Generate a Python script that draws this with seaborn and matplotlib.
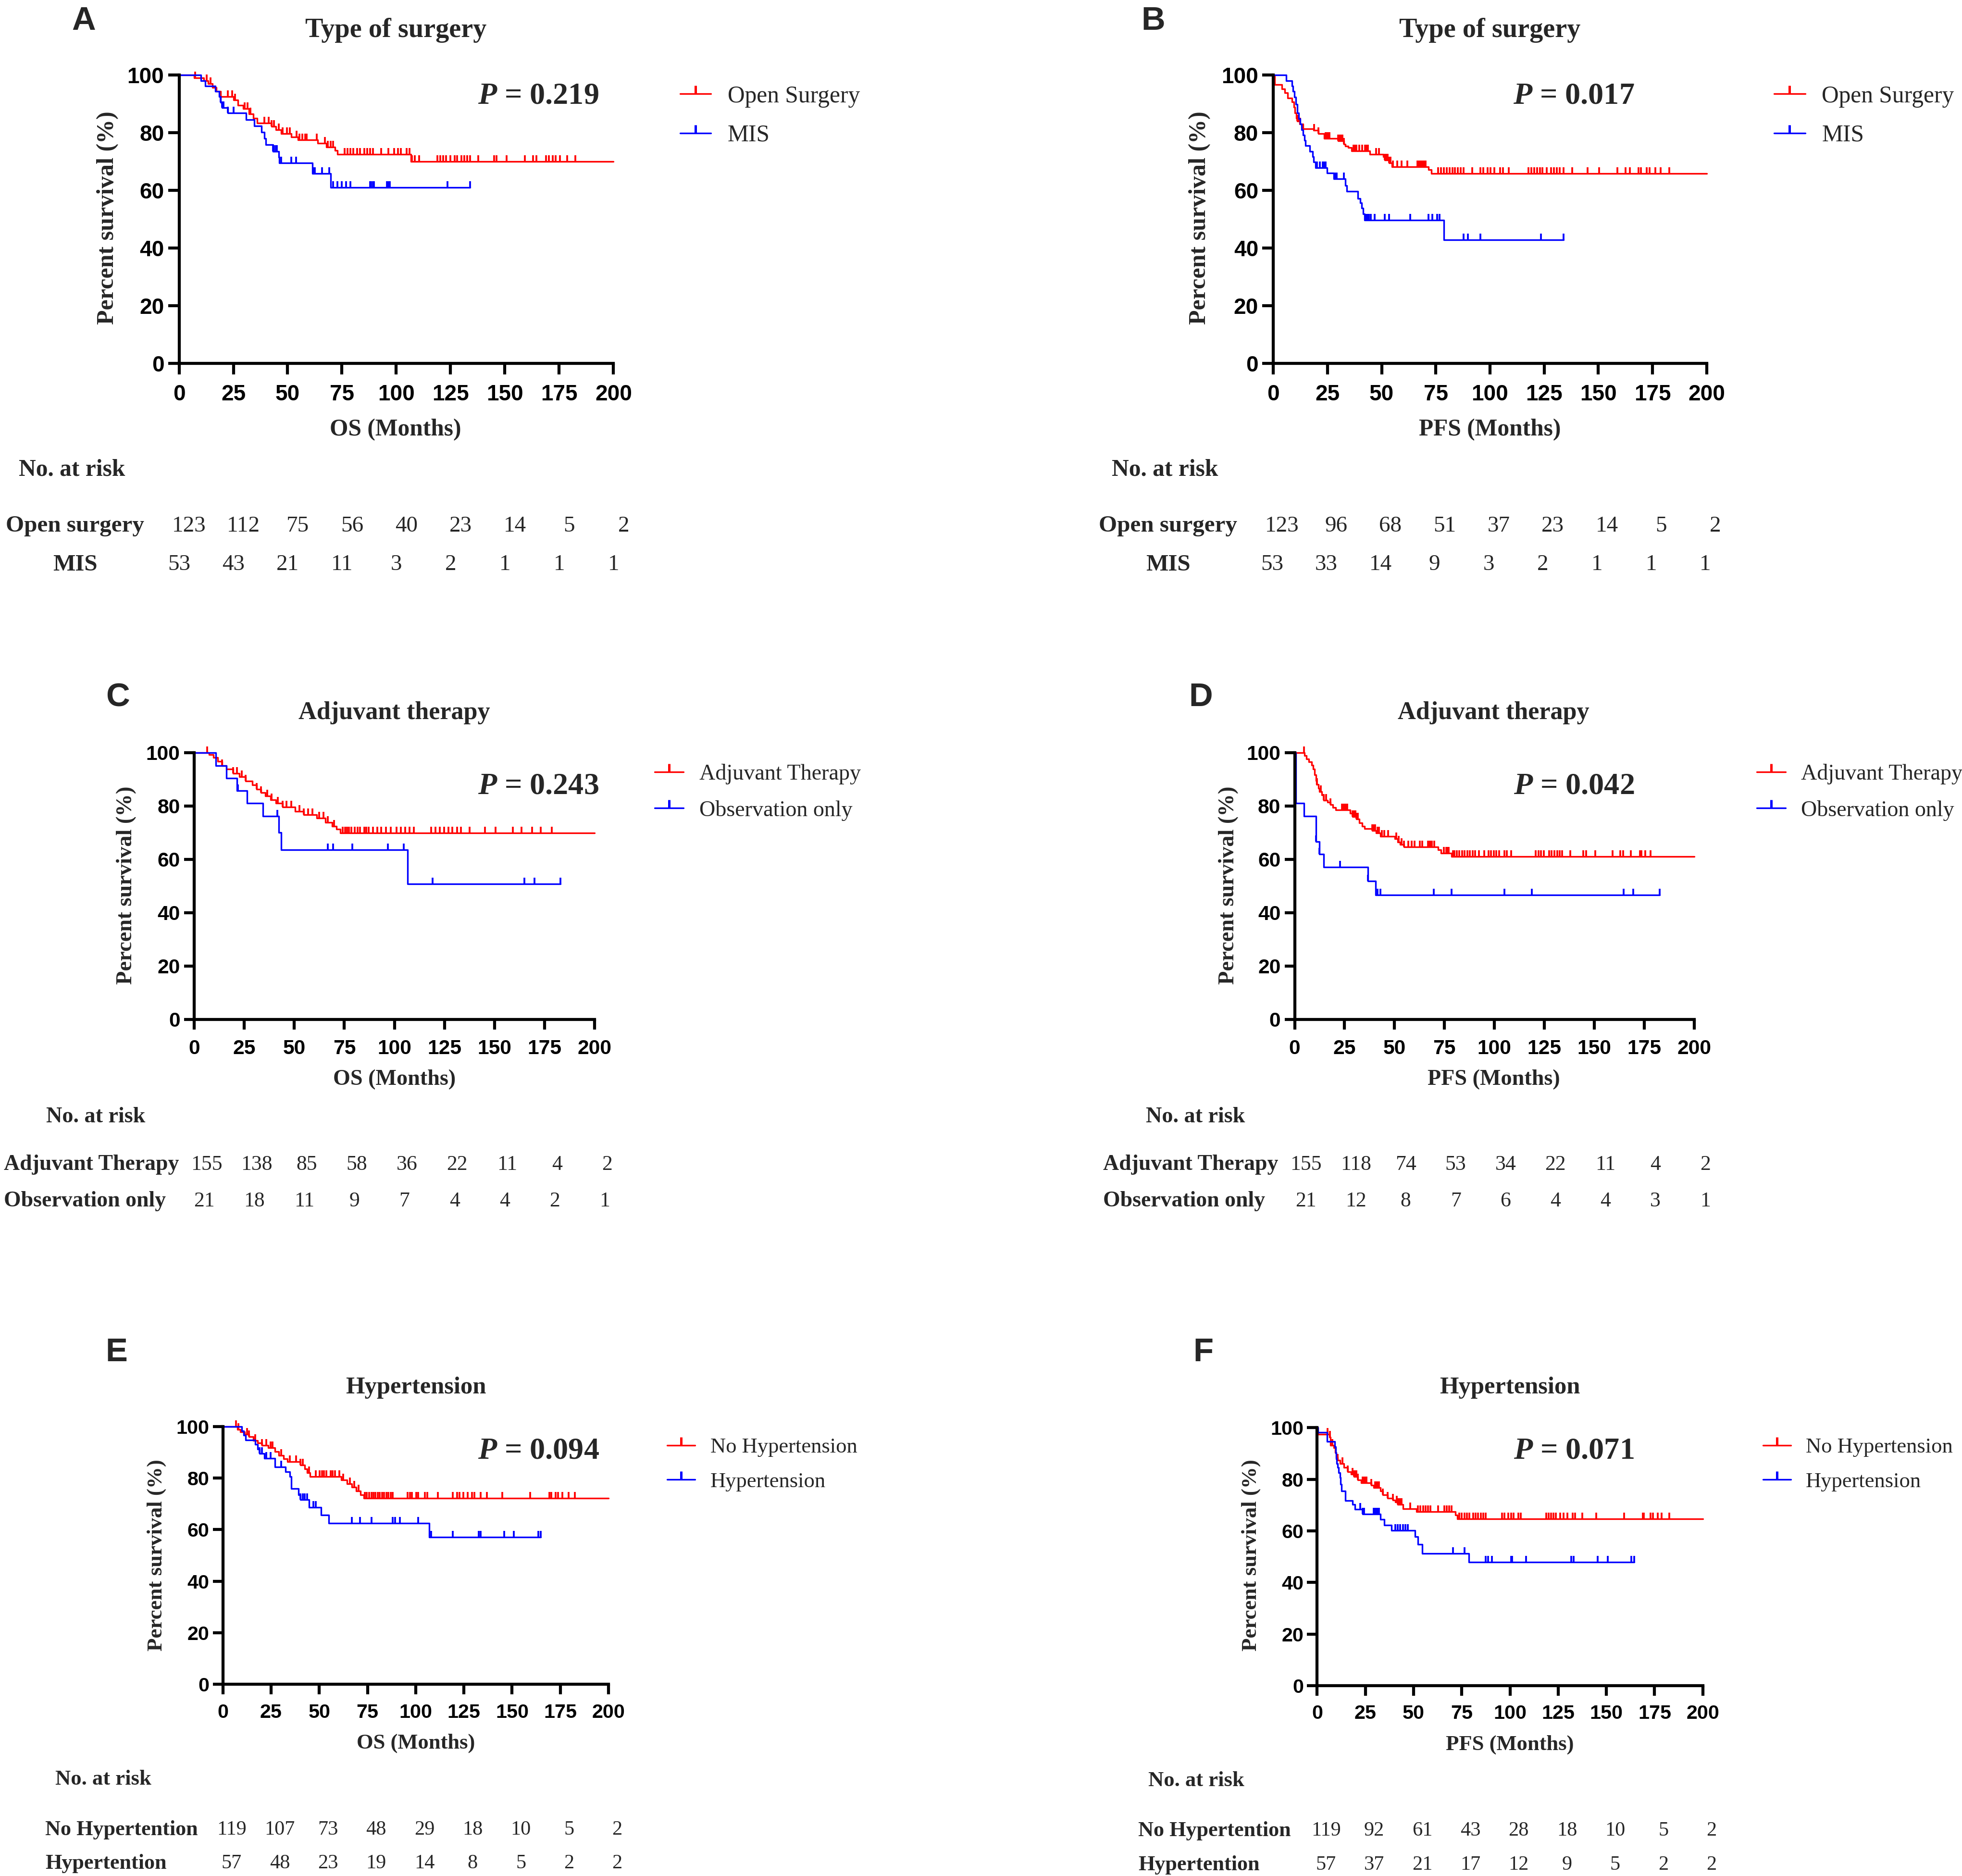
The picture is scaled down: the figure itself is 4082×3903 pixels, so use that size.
import numpy as np
import matplotlib
matplotlib.use("Agg")
import matplotlib.pyplot as plt
from matplotlib.lines import Line2D
from matplotlib import transforms
import seaborn as sns

# time points of the "No. at risk" table
risk_times = [0, 25, 50, 75, 100, 125, 150, 175, 200]

# ---------------- A: OS, type of surgery
a_open_t = [7, 11.4, 13.4, 15.3, 17.2, 19.2, 25, 27, 29.6, 32.1, 34.1, 36, 42.5, 44.5, 47, 51.6, 54.8,
            63.9, 67.8, 71.7, 73, 106.7]
a_open_s = [99, 98, 97, 95.7, 94.3, 92.5, 91.3, 89.6, 88.3, 86.6, 85, 83.3, 82.2, 81.1, 79.7, 78.6, 77.5,
            76.4, 75, 73.9, 72.6, 70.1]
a_open_c = [7.3, 12.7, 14.6, 22.4, 24.4, 25.7, 30.2, 31.5, 32.8, 39.3, 41.2, 42.5, 43.8, 45.8, 47.7, 49.6,
            50.9, 54.2, 55.5, 56.8, 58.1, 58.7, 63.3, 67.1, 68.4, 69.7, 71, 76.2, 77.5, 78.8, 80.1, 82, 83.3,
            85.3, 86.6, 87.9, 89.2, 93.1, 96.3, 98.9, 100.8, 102.1, 104.7, 106, 107.3, 108.6, 110.6, 119, 120.3,
            121.6, 122.9, 124.8, 126.8, 128, 130, 131.3, 132.6, 133.9, 137.8, 145, 146.2, 150.8, 159.2, 163,
            164.4, 168.9, 170.2, 172, 173.4, 175.4, 178.6, 182.5]
a_open_end = 200
a_mis_t = [10, 12, 16.6, 18.5, 19.2, 19.8, 22.4, 30.8, 34.7, 38, 39.3, 40, 43.2, 45.8, 46.1, 61.3, 69.7]
a_mis_s = [98.1, 96.2, 94.3, 92.5, 90.6, 88.7, 86.8, 84.6, 82.4, 80.2, 78, 75.8, 73.6, 71.6, 69.6, 65.8, 61]
a_mis_c = [19.2, 19.8, 20.5, 22.4, 25, 43.2, 43.8, 44.5, 45.1, 47, 51.6, 53.9, 62, 62.6, 65.8, 69.1, 71, 73,
           74.9, 76.9, 78.8, 87.9, 88.5, 89.2, 89.8, 95.7, 96.3, 97, 123.5, 133.9]
a_mis_end = 133.9
a_open_risk = [123, 112, 75, 56, 40, 23, 14, 5, 2]
a_mis_risk = [53, 43, 21, 11, 3, 2, 1, 1, 1]

# ---------------- B: PFS, type of surgery
b_open_t = [0.7, 3.9, 5.2, 6.5, 8.5, 9.5, 10, 10.7, 11, 12.1, 13.7, 18.6, 20.8, 23.4, 29.9, 32.5, 33.2, 34.5,
            36.2, 44.6, 50.7, 51.4, 53.4, 54.7, 71.6, 72.9]
b_open_s = [96.8, 95.2, 93.8, 92.1, 90.7, 88.8, 86.9, 85, 84.1, 83, 81.4, 80.8, 79.7, 78.1, 77.2, 76.1, 75.3,
            74.8, 73.7, 72.6, 71.7, 70.6, 69.5, 68.2, 67.1, 65.8]
b_open_c = [11.1, 11.7, 12.4, 18.9, 20.8, 24.1, 24.7, 25.4, 26, 29.9, 30.6, 31.2, 31.9, 32.5, 37.1, 37.7, 38.4,
            39.7, 41, 42.3, 42.9, 43.6, 47.5, 48.8, 51.4, 52, 52.7, 53.4, 54, 55.3, 57.3, 59.2, 61.8, 66.4, 67,
            67.7, 68.3, 69, 69.6, 70.3, 76.1, 77.4, 78.7, 80, 81.3, 82.6, 83.9, 85.2, 86.5, 87.8, 91.7, 95.6,
            96.9, 98.9, 100.2, 102.1, 104.7, 106, 108.7, 117.8, 119.1, 120.4, 121.7, 123, 124.3, 126.2, 128.2,
            129.5, 130.8, 132.1, 134, 137.9, 145.1, 150.3, 158.8, 162.7, 164.6, 168.5, 169.8, 172.4, 173.7,
            176.3, 178.9, 182.8]
b_open_end = 200
b_mis_t = [5.9, 8.7, 9.1, 9.8, 10.4, 11, 11.7, 12.4, 13, 13.7, 14.3, 14.9, 16.9, 18.2, 18.6, 19.5, 24.7, 28,
           33.2, 33.8, 39, 40, 40.7, 41.4, 42, 78.7]
b_mis_s = [98.1, 96.2, 94.3, 92.4, 89.9, 86.9, 84.9, 83, 81.1, 79.2, 77.4, 75.5, 73.6, 71.7, 69.8, 67.9, 66,
           64, 61.6, 59.6, 57.2, 55.6, 53.8, 51.9, 49.7, 42.9]
b_mis_c = [20.2, 21.5, 22.8, 23.4, 24.1, 28.6, 29.3, 32.5, 42.3, 42.9, 43.6, 44.2, 44.9, 46.8, 51.4, 53.4,
           63.1, 71.6, 73.5, 75.5, 76.8, 87.8, 89.8, 95.6, 123.6, 134]
b_mis_end = 134
b_open_risk = [123, 96, 68, 51, 37, 23, 14, 5, 2]
b_mis_risk = [53, 33, 14, 9, 3, 2, 1, 1, 1]

# ---------------- C: OS, adjuvant therapy
c_adj_t = [7.5, 9.7, 11.8, 14, 16.1, 19.4, 22.6, 25.8, 29, 31.2, 33.3, 35.5, 38.3, 40.9, 44.1, 50.5, 54.8,
           61.3, 65.6, 68.8, 71, 73.1]
c_adj_s = [99.3, 98.2, 96.7, 95.1, 93.8, 92.3, 91, 89.4, 87.9, 86.3, 85.1, 83.7, 82.4, 81.1, 79.6, 78, 76.7,
           75.4, 73.9, 72.5, 71.3, 69.9]
c_adj_c = [6.5, 14, 19.4, 21.5, 23.7, 25.8, 31.2, 33.3, 36.6, 38.7, 41.9, 44.1, 46.2, 48.4, 52.7, 54.8, 57,
           59.1, 62.4, 64.5, 66.7, 69.9, 74.2, 75.3, 76.3, 77.4, 78.5, 80.2, 81.7, 82.8, 84.9, 86, 87.1, 89.2,
           91.4, 93.5, 95.7, 98.3, 101.1, 103.2, 105.4, 107.5, 109.7, 118.3, 120.4, 122.6, 124.7, 126.9, 129,
           131.2, 133.3, 137.6, 145.2, 150.5, 159.1, 163.4, 168.8, 173.1, 178.5]
c_adj_end = 200
c_obs_t = [10.8, 16.1, 21.5, 26.5, 34.4, 42.4, 43.5, 106.5]
c_obs_s = [95.2, 90.5, 85.7, 81, 76.2, 70.1, 63.5, 50.8]
c_obs_c = [22, 41.5, 66.7, 69.5, 79, 96.8, 104.7, 119, 165, 170, 182.8]
c_obs_end = 182.8
c_adj_risk = [155, 138, 85, 58, 36, 22, 11, 4, 2]
c_obs_risk = [21, 18, 11, 9, 7, 4, 4, 2, 1]

# ---------------- D: PFS, adjuvant therapy
d_adj_t = [4.9, 5.9, 7, 8.6, 9.2, 9.9, 10.6, 11, 11.9, 12.5, 13.6, 14.5, 16.5, 17.8, 19.1, 20.5, 27.7, 29,
           31, 32.3, 33.7, 35, 38.9, 40.9, 42.9, 50.2, 51.5, 52.8, 54.8, 71.9, 73.3, 78.5]
d_adj_s = [98.9, 97.7, 96.5, 95.3, 93.8, 91.7, 89.6, 88.1, 86.6, 85.4, 84.2, 82.2, 81.5, 80.6, 79.4, 78.5,
           77.3, 76.1, 75.2, 73.7, 72.5, 71.6, 70.7, 69.8, 68.6, 67.7, 66.5, 65.6, 64.6, 63.5, 62.3, 61.1]
d_adj_c = [4.6, 11.2, 13.2, 14.5, 15.8, 17.8, 23.8, 24.4, 25.1, 25.7, 26.4, 29, 29.7, 30.4, 31, 31.7, 38.9,
           39.6, 40.3, 41.6, 42.2, 43.6, 44.9, 46.9, 50.8, 52.1, 53.5, 54.8, 56.8, 58.7, 60.1, 62.7, 64, 66.7,
           67.3, 68, 68.6, 70, 74.6, 75.9, 76.6, 77.2, 79.2, 79.9, 81.2, 82.5, 83.8, 85.1, 86.5, 87.8, 89.1,
           90.4, 92.4, 95, 97, 98.3, 99.7, 101, 102.3, 105, 106.3, 108.3, 120.8, 122.1, 123.4, 124.8, 127.4,
           128.7, 130, 131.4, 132.7, 134, 138, 144.6, 145.9, 150.5, 159.1, 163, 164.4, 168.3, 172.9, 173.6,
           175.6, 178.2]
d_adj_end = 200
d_obs_t = [0.7, 4.6, 10.6, 12.5, 14.5, 36.7, 40.5]
d_obs_s = [81, 76.2, 66.7, 61.9, 57.1, 51.9, 46.7]
d_obs_c = [10.6, 12.5, 22.8, 36.7, 41.6, 42.9, 69.7, 78.5, 105, 118.8, 164.8, 169.6, 182.8]
d_obs_end = 182.8
d_adj_risk = [155, 118, 74, 53, 34, 22, 11, 4, 2]
d_obs_risk = [21, 12, 8, 7, 6, 4, 4, 3, 1]

# ---------------- E: OS, hypertension
e_no_t = [7.6, 9.1, 11.3, 13.6, 15.8, 18, 20.2, 23.6, 26.9, 29.1, 31.4, 33.6, 40.3, 42.5, 43.6, 45.2, 61.4,
          64.3, 67, 69.2, 71.4, 73]
e_no_s = [98.9, 97.9, 96.9, 96, 94.6, 93.6, 92.6, 91.7, 90.2, 88.8, 87.4, 86.4, 85, 83.6, 82.1, 80.5, 79.3,
          77.8, 76.4, 75, 73.5, 72.1]
e_no_c = [6.9, 8, 12.5, 13.6, 16.9, 20.2, 22.5, 24.7, 25.8, 30.3, 34.7, 38, 40.3, 41.4, 44.7, 48.1, 50.3,
          51.4, 52.5, 53.6, 55.8, 57, 58.1, 60.3, 62.5, 65.9, 68.1, 70.3, 73.6, 74.7, 75.9, 77, 78.1, 79.2,
          80.3, 81.4, 82.5, 83.6, 84.8, 85.9, 87, 88.1, 95.9, 97, 98.1, 100.3, 101.4, 104.8, 105.9, 111.5,
          119.2, 121.5, 122.6, 124.8, 127, 129.3, 130.4, 133.7, 137, 144.8, 159.3, 169.3, 170.4, 172.6, 173.7,
          176, 179.3, 182.6]
e_no_end = 200
e_ht_t = [9.8, 10.9, 11.8, 16.9, 18, 19.1, 21.4, 26.9, 32.5, 34.7, 35.4, 39.2, 40.3, 44.7, 50.9, 55, 107]
e_ht_s = [98.2, 96.5, 94.7, 93, 91.2, 89.5, 87.7, 84.2, 82.4, 80.6, 75.9, 73.5, 71.6, 68.7, 65.7, 62.5, 57]
e_ht_c = [19.1, 20.2, 22.5, 24.7, 30.3, 40.3, 41.4, 42.5, 43.6, 46.9, 48.1, 67, 71, 77, 88.1, 89.2, 91.9,
          101.4, 108, 119.2, 132.6, 133.7, 145.9, 151, 163.7, 164.8]
e_ht_end = 164.8
e_no_risk = [119, 107, 73, 48, 29, 18, 10, 5, 2]
e_ht_risk = [57, 48, 23, 19, 14, 8, 5, 2, 2]

# ---------------- F: PFS, hypertension
f_no_t = [0.4, 6.4, 6.9, 8.6, 9.3, 9.9, 10.6, 11.9, 13.8, 15.8, 17.7, 19, 21, 22.9, 28.1, 29.4, 32.7, 34,
          36.6, 39.2, 40.5, 41.8, 44.4, 51.6, 71.8, 72.8]
f_no_s = [97.5, 96.3, 93.2, 92.2, 90.4, 88.5, 87.3, 86, 84.5, 82.9, 82, 81, 79.8, 78.6, 77.6, 76.7, 75.5,
          73.9, 72.7, 72, 71.1, 70.2, 68.6, 67.4, 66.1, 64.6]
f_no_c = [5.3, 6.6, 7.9, 10.6, 13.2, 15.8, 18.4, 19, 19.7, 20.3, 21, 23.6, 24.2, 24.9, 25.5, 28.1, 30.1,
          30.7, 31.4, 32.1, 34, 36.6, 39.2, 41.2, 41.8, 42.5, 43.1, 43.8, 48.3, 52.2, 53.6, 54.9, 56.2, 57.5,
          58.8, 62.7, 65.9, 67.2, 68.5, 69.8, 73.7, 75, 76.4, 77.7, 79, 80.9, 82.2, 83.5, 84.8, 86.1, 87.4,
          95.9, 97.2, 99.2, 100.5, 101.8, 104.4, 105.7, 118.7, 120, 121.3, 122.6, 123.9, 125.9, 127.8, 129.8,
          132.4, 133.7, 137.6, 144.8, 159.1, 168.9, 169.5, 172.8, 174.1, 176.7, 178.6, 182.5]
f_no_end = 200
f_ht_t = [0.5, 5.1, 9, 9.5, 9.9, 10.2, 10.6, 11.2, 11.9, 12.2, 12.5, 14.5, 18.4, 19.7, 23.6, 32.7, 34.7,
          38.6, 50.7, 52.2, 54.5, 78.6]
f_ht_s = [98.1, 94.7, 92.5, 90.1, 87.9, 86, 84.5, 82.6, 80.7, 78, 75.5, 71.7, 70.2, 68.4, 66.5, 64.5, 62.2,
          60.2, 57.8, 54.7, 51.2, 47.8]
f_ht_c = [22.3, 23.6, 24.2, 29.4, 30.1, 30.7, 31.4, 32.1, 40.5, 41.8, 43.1, 44.4, 45.7, 47, 70.5, 76.4, 87.4,
          88.7, 90.7, 100.5, 101.1, 108.3, 131.7, 133, 145.4, 150.6, 163, 164.3]
f_ht_end = 164.3
f_no_risk = [119, 92, 61, 43, 28, 18, 10, 5, 2]
f_ht_risk = [57, 37, 21, 17, 12, 9, 5, 2, 2]

panels = [
    dict(letter="A", title="Type of surgery", xlabel="OS (Months)", p="0.219",
         groups=[("Open Surgery", a_open_t, a_open_s, a_open_c, a_open_end),
                 ("MIS", a_mis_t, a_mis_s, a_mis_c, a_mis_end)],
         risk_labels=["Open surgery", "MIS"], risk=[a_open_risk, a_mis_risk]),
    dict(letter="B", title="Type of surgery", xlabel="PFS (Months)", p="0.017",
         groups=[("Open Surgery", b_open_t, b_open_s, b_open_c, b_open_end),
                 ("MIS", b_mis_t, b_mis_s, b_mis_c, b_mis_end)],
         risk_labels=["Open surgery", "MIS"], risk=[b_open_risk, b_mis_risk]),
    dict(letter="C", title="Adjuvant therapy", xlabel="OS (Months)", p="0.243",
         groups=[("Adjuvant Therapy", c_adj_t, c_adj_s, c_adj_c, c_adj_end),
                 ("Observation only", c_obs_t, c_obs_s, c_obs_c, c_obs_end)],
         risk_labels=["Adjuvant Therapy", "Observation only"], risk=[c_adj_risk, c_obs_risk]),
    dict(letter="D", title="Adjuvant therapy", xlabel="PFS (Months)", p="0.042",
         groups=[("Adjuvant Therapy", d_adj_t, d_adj_s, d_adj_c, d_adj_end),
                 ("Observation only", d_obs_t, d_obs_s, d_obs_c, d_obs_end)],
         risk_labels=["Adjuvant Therapy", "Observation only"], risk=[d_adj_risk, d_obs_risk]),
    dict(letter="E", title="Hypertension", xlabel="OS (Months)", p="0.094",
         groups=[("No Hypertension", e_no_t, e_no_s, e_no_c, e_no_end),
                 ("Hypertension", e_ht_t, e_ht_s, e_ht_c, e_ht_end)],
         risk_labels=["No Hypertention", "Hypertention"], risk=[e_no_risk, e_ht_risk]),
    dict(letter="F", title="Hypertension", xlabel="PFS (Months)", p="0.071",
         groups=[("No Hypertension", f_no_t, f_no_s, f_no_c, f_no_end),
                 ("Hypertension", f_ht_t, f_ht_s, f_ht_c, f_ht_end)],
         risk_labels=["No Hypertention", "Hypertention"], risk=[f_no_risk, f_ht_risk]),
]

# layout, in reference pixels (1567 x 1498 grid)
REF_W, REF_H = 1567.0, 1498.0
layouts = [
    dict(rect=(143, 60, 490, 290), k=1.0, letter=(67, 15), title=(316, 22), pval=(430, 75), ylab=(86, 174),
         xlab=(316, 341), leg=(543, 66), head=(15, 373), rows=(418, 449), row_x=60, row_ha="center", offs=(8, 0)),
    dict(rect=(1017, 60, 1363, 290), k=1.0, letter=(921, 15), title=(1190, 22), pval=(1257, 75), ylab=(958, 174),
         xlab=(1190, 341), leg=(1417, 66), head=(888, 373), rows=(418, 449), row_x=933, row_ha="center", offs=(7, -1)),
    dict(rect=(155, 601, 475, 814), k=0.93, letter=(94, 555), title=(315, 567), pval=(430, 626), ylab=(101, 707),
         xlab=(315, 860), leg=(523, 608), head=(37, 890), rows=(928, 957), row_x=3, row_ha="left", offs=(10, 8)),
    dict(rect=(1034, 601, 1353, 814), k=0.93, letter=(959, 555), title=(1193, 567), pval=(1257, 626), ylab=(981, 707),
         xlab=(1193, 860), leg=(1403, 608), head=(915, 890), rows=(928, 957), row_x=881, row_ha="left", offs=(9, 9)),
    dict(rect=(178, 1139, 486, 1345), k=0.9, letter=(93, 1078), title=(332, 1106), pval=(430, 1157), ylab=(125, 1242),
         xlab=(332, 1390), leg=(533, 1146), head=(44, 1419), rows=(1459, 1486), row_x=36, row_ha="left", offs=(7, 7)),
    dict(rect=(1052, 1140, 1360, 1346), k=0.9, letter=(961, 1078), title=(1206, 1106), pval=(1257, 1157), ylab=(999, 1242),
         xlab=(1206, 1391), leg=(1408, 1146), head=(917, 1420), rows=(1460, 1487), row_x=909, row_ha="left", offs=(7, 7)),
]

COLORS = ["#FF0000", "#0000FF"]
LW = 0.8
TICK_MS = 3.2
TICK_MEW = 0.9
PX2PT = 0.625  # one reference pixel in points
TEXT_DY = 2.0  # centre of glyphs sits a bit below the text box centre

sns.set_theme(style="ticks")
plt.rcParams["font.family"] = ["Liberation Serif", "DejaVu Serif"]
plt.rcParams["mathtext.fontset"] = "custom"
plt.rcParams["mathtext.it"] = "Liberation Serif:italic:bold"
plt.rcParams["mathtext.rm"] = "Liberation Serif:bold"

fig = plt.figure(figsize=(4082 / 300, 3903 / 300), dpi=300)
fig.patch.set_facecolor("white")


def fxy(x, y, dy=TEXT_DY):
    return x / REF_W, 1 - (y + dy) / REF_H


for p, lay in zip(panels, layouts):
    l, t, r, b = lay["rect"]
    k = lay["k"]
    ax = fig.add_axes([l / REF_W, 1 - b / REF_H, (r - l) / REF_W, (b - t) / REF_H])
    ax.set_facecolor("white")

    handles = []
    for (name, times, surv, cens, end), col in zip(p["groups"], COLORS):
        xs = np.r_[0, times, end]
        ys = np.r_[100, surv, surv[-1]]
        sns.lineplot(x=xs, y=ys, ax=ax, drawstyle="steps-post", color=col, lw=LW,
                     estimator=None, errorbar=None, sort=False, legend=False, clip_on=False)
        cs = np.asarray(cens)
        cy = np.r_[100, surv][np.searchsorted(times, cs, side="right")]
        ax.plot(cs, cy, ls="none", marker=2, ms=TICK_MS, mew=TICK_MEW, color=col, clip_on=False)
        handles.append(Line2D([], [], color=col, lw=LW, marker=2, ms=TICK_MS + 1, mew=TICK_MEW + 0.3))

    ax.set_xlim(0, 200)
    ax.set_ylim(0, 100)
    ax.set_xticks(np.arange(0, 201, 25))
    ax.set_yticks(np.arange(0, 101, 20))
    ax.set_xlabel("")
    ax.set_ylabel("")
    sns.despine(ax=ax)
    for s in ("left", "bottom"):
        ax.spines[s].set_linewidth(1.5)
        ax.spines[s].set_color("black")
    ax.tick_params(axis="both", length=5.5 * k, width=1.5, color="black", labelsize=11 * k, labelcolor="black")
    ax.tick_params(axis="x", pad=5 * k)
    ax.tick_params(axis="y", pad=2 * k)
    for lab in ax.get_xticklabels() + ax.get_yticklabels():
        lab.set_fontfamily("Liberation Sans")
        lab.set_fontweight("bold")

    # texts
    fig.text(*fxy(*lay["letter"]), p["letter"], family="Liberation Sans", weight="bold", fontsize=16.5,
             ha="center", va="center")
    fig.text(*fxy(*lay["title"]), p["title"], weight="bold", fontsize=13.5 * k, ha="center", va="center")
    fig.text(*fxy(*lay["pval"]), "$P$ = " + p["p"], weight="bold", fontsize=15.4, ha="center", va="center")
    fig.text(*fxy(*lay["ylab"], dy=0), "Percent survival (%)", weight="bold", fontsize=12.0 * k, rotation=90,
             ha="center", va="center")
    fig.text(*fxy(*lay["xlab"]), p["xlabel"], weight="bold", fontsize=11.9 * k, ha="center", va="center")

    ax.legend(handles, [g[0] for g in p["groups"]], loc="upper left", bbox_to_anchor=fxy(*lay["leg"]),
              bbox_transform=fig.transFigure, frameon=False, fontsize=11.9 * k, handlelength=1.3,
              handletextpad=0.7, borderpad=0, borderaxespad=0, labelspacing=0.7, numpoints=1)

    # number at risk table
    fig.text(*fxy(*lay["head"]), "No. at risk", weight="bold", fontsize=11.9 * k, ha="left", va="center")
    blend = transforms.blended_transform_factory(ax.transData, fig.transFigure)
    for row_y, lab, counts, off in zip(lay["rows"], p["risk_labels"], p["risk"], lay["offs"]):
        fig.text(*fxy(lay["row_x"], row_y), lab, weight="bold", fontsize=11.8 * k,
                 ha=lay["row_ha"], va="center")
        tr = transforms.offset_copy(blend, fig=fig, x=off * PX2PT, units="points")
        for tt, n in zip(risk_times, counts):
            ax.text(tt, 1 - (row_y + TEXT_DY) / REF_H, str(n), transform=tr, fontsize=11.3 * k,
                    ha="center", va="center", clip_on=False)

fig.savefig("out.png", dpi=300, facecolor="white")
